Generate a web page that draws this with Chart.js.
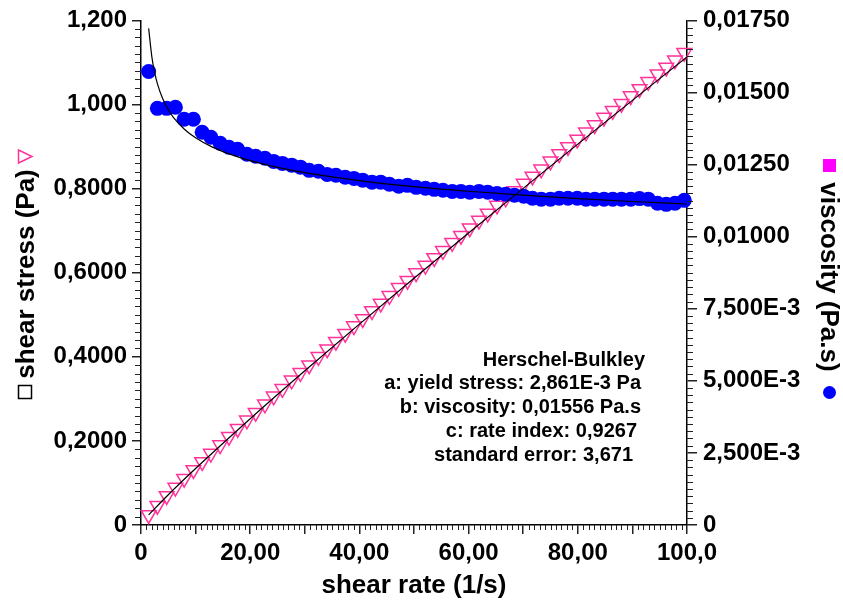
<!DOCTYPE html>
<html>
<head>
<meta charset="utf-8">
<script src="https://cdn.jsdelivr.net/npm/chart.js@4.4.1/dist/chart.umd.min.js"></script>
<style>
  html, body { margin: 0; padding: 0; background: #fff; }
  #wrap { width: 843px; height: 605px; position: relative; }
</style>
</head>
<body>
<div id="wrap"><canvas id="myChart"></canvas></div>
<script>
/* ======================================
        DATA
========================================*/
const shearRate = [1.4, 3.0, 4.7, 6.3, 7.9, 9.6, 11.2, 12.8, 14.5, 16.1, 17.7, 19.4, 21.0, 22.7, 24.3, 25.9, 27.6, 29.2, 30.8, 32.5,
  34.1, 35.7, 37.4, 39.0, 40.6, 42.3, 43.9, 45.5, 47.2, 48.8, 50.4, 52.1, 53.7, 55.3, 57.0, 58.6, 60.2, 61.9, 63.5, 65.2,
  66.8, 68.4, 70.1, 71.7, 73.3, 75.0, 76.6, 78.2, 79.9, 81.5, 83.1, 84.8, 86.4, 88.0, 89.7, 91.3, 92.9, 94.6, 96.2, 97.8, 99.5];
const shearStress = [0.024, 0.046, 0.069, 0.089, 0.110, 0.131, 0.150, 0.170, 0.190, 0.210, 0.229, 0.249, 0.267, 0.287, 0.306, 0.324, 0.344, 0.362, 0.380, 0.400,
  0.418, 0.436, 0.455, 0.473, 0.490, 0.509, 0.527, 0.545, 0.564, 0.581, 0.599, 0.617, 0.635, 0.652, 0.671, 0.688, 0.706, 0.724, 0.741, 0.760,
  0.777, 0.794, 0.812, 0.829, 0.846, 0.865, 0.882, 0.899, 0.917, 0.934, 0.951, 0.969, 0.985, 1.002, 1.020, 1.037, 1.054, 1.072, 1.088, 1.105, 1.123];
const viscosity = [0.01573, 0.01445, 0.01445, 0.01449, 0.01407, 0.01407, 0.01362, 0.01345, 0.01324, 0.01310,
  0.01303, 0.01286, 0.01279, 0.01272, 0.01261, 0.01254, 0.01248, 0.01241, 0.01230, 0.01227,
  0.01216, 0.01213, 0.01206, 0.01202, 0.01196, 0.01189, 0.01189, 0.01182, 0.01175, 0.01178,
  0.01171, 0.01168, 0.01164, 0.01161, 0.01157, 0.01157, 0.01154, 0.01157, 0.01154, 0.01150,
  0.01147, 0.01144, 0.01140, 0.01133, 0.01130, 0.01130, 0.01133, 0.01133, 0.01133, 0.01130,
  0.01130, 0.01130, 0.01130, 0.01130, 0.01130, 0.01132, 0.01130, 0.01116, 0.01112, 0.01116, 0.01126];

// Herschel-Bulkley fit curves
const fitRate = [1.4, 5, 10, 20, 30, 40, 50, 60, 70, 80, 90, 100];
const fitStress = [0.0241, 0.0720, 0.1343, 0.2527, 0.3667, 0.4778, 0.5869, 0.6945, 0.8006, 0.9057, 1.0098, 1.1132];
const fitViscRate = [1.4, 2, 2.5, 3, 4, 5, 6, 8, 10, 13, 16, 20, 25, 30, 40, 50, 60, 70, 80, 90, 100];
const fitVisc = [0.017223, 0.016220, 0.015693, 0.015309, 0.014772, 0.014400, 0.014122, 0.013718, 0.013430, 0.013113,
  0.012878, 0.012635, 0.012403, 0.012222, 0.011946, 0.011738, 0.011575, 0.011437, 0.011322, 0.011220, 0.011133];

const xTickLabels = ['0', '20,00', '40,00', '60,00', '80,00', '100,0'];
const stressTickLabels = ['0', '0,2000', '0,4000', '0,6000', '0,8000', '1,000', '1,200'];
const viscTickLabels = ['0', '2,500E-3', '5,000E-3', '7,500E-3', '0,01000', '0,01250', '0,01500', '0,01750'];
const fitNotes = ['Herschel-Bulkley', 'a: yield stress: 2,861E-3 Pa', 'b: viscosity: 0,01556 Pa.s', 'c: rate index: 0,9267', 'standard error: 3,671'];

const FONT = "'Liberation Sans', Arial, sans-serif";
const PINK = '#FF3399';
const BLUE = '#0000FF';

/* ======================================
        EXTRA DRAWING (minor ticks, titles, notes)
========================================*/
const extras = {
  id: 'extras',
  afterDraw(chart) {
    const ctx = chart.ctx;
    const xs = chart.scales.x, ys = chart.scales.y, y1 = chart.scales.y1;
    ctx.save();
    ctx.strokeStyle = '#222';
    ctx.lineWidth = 1;
    const seg = (a, b, c, d) => { ctx.beginPath(); ctx.moveTo(a, b); ctx.lineTo(c, d); ctx.stroke(); };
    // minor ticks
    for (let v = 1; v < 100; v++) {
      if (v % 10 === 0) continue;
      const p = Math.round(xs.getPixelForValue(v)) + 0.5;
      seg(p, xs.top, p, xs.top + 5);
    }
    for (let i = 1; i < 60; i++) {
      if (i % 10 === 0) continue;
      const p = Math.round(ys.getPixelForValue(i * 0.02)) + 0.5;
      seg(ys.right - 6, p, ys.right, p);
    }
    for (let i = 1; i < 70; i++) {
      if (i % 10 === 0) continue;
      const p = Math.round(y1.getPixelForValue(i * 0.00025)) + 0.5;
      seg(y1.left, p, y1.left + 6, p);
    }

    // left title with markers
    ctx.fillStyle = '#000';
    ctx.font = 'bold 26px ' + FONT;
    ctx.textAlign = 'center';
    ctx.textBaseline = 'middle';
    ctx.save();
    ctx.translate(27, 274);
    ctx.rotate(-Math.PI / 2);
    ctx.fillText('shear stress (Pa)', 0, 0);
    ctx.restore();
    ctx.lineWidth = 1.5;
    ctx.strokeStyle = '#000';
    ctx.strokeRect(18.5, 385.5, 13, 13);
    ctx.strokeStyle = PINK;
    ctx.beginPath();
    ctx.moveTo(18.5, 150); ctx.lineTo(32, 156.5); ctx.lineTo(18.5, 163); ctx.closePath();
    ctx.stroke();

    // right title with markers
    ctx.save();
    ctx.translate(828, 277);
    ctx.rotate(Math.PI / 2);
    ctx.fillText('viscosity (Pa.s)', 0, 0);
    ctx.restore();
    ctx.fillStyle = '#FF00FF';
    ctx.fillRect(823, 159, 13, 13);
    ctx.fillStyle = BLUE;
    ctx.beginPath();
    ctx.arc(829.5, 392.5, 6.5, 0, Math.PI * 2);
    ctx.fill();

    // fit notes
    ctx.fillStyle = '#000';
    ctx.font = 'bold 20px ' + FONT;
    ctx.textAlign = 'right';
    const ends = [645, 641, 641, 637, 633];
    fitNotes.forEach((t, i) => {
      ctx.fillText(t, ends[i], 360 + i * 23.8);
    });
    ctx.restore();
  }
};

/* ======================================
        CHART
========================================*/
const toPts = (xs, ys) => xs.map((x, i) => ({ x: x, y: ys[i] }));
const tickFont = { family: FONT, size: 24, weight: 'bold' };

let rheoChart = new Chart(document.getElementById('myChart').getContext('2d'), {
  type: 'scatter',
  data: {
    datasets: [
      {
        label: 'fit stress',
        data: toPts(fitRate, fitStress),
        yAxisID: 'y',
        showLine: true,
        borderColor: '#000',
        borderWidth: 1.2,
        pointRadius: 0,
        cubicInterpolationMode: 'monotone',
        order: 0
      },
      {
        label: 'fit viscosity',
        data: toPts(fitViscRate, fitVisc),
        yAxisID: 'y1',
        showLine: true,
        borderColor: '#000',
        borderWidth: 1.2,
        pointRadius: 0,
        cubicInterpolationMode: 'monotone',
        order: 0
      },
      {
        label: 'shear stress',
        data: toPts(shearRate, shearStress),
        yAxisID: 'y',
        pointStyle: 'triangle',
        rotation: 180,
        pointRadius: 8.5,
        borderWidth: 1.5,
        borderColor: PINK,
        backgroundColor: 'rgba(0,0,0,0)',
        clip: false,
        order: 2
      },
      {
        label: 'viscosity',
        data: toPts(shearRate, viscosity),
        yAxisID: 'y1',
        pointStyle: 'circle',
        pointRadius: 7.5,
        borderWidth: 0,
        backgroundColor: BLUE,
        clip: false,
        order: 1
      }
    ]
  },
  options: {
    responsive: true,
    maintainAspectRatio: false,
    animation: false,
    layout: { padding: { top: 20, left: 0, right: 0, bottom: 0 } },
    plugins: { legend: { display: false }, tooltip: { enabled: false } },
    scales: {
      x: {
        type: 'linear',
        min: 0, max: 100,
        afterFit: (s) => { s.height = 80; },
        border: { display: true, color: '#000', width: 1.5 },
        grid: { drawOnChartArea: false, drawTicks: true, tickLength: 9, color: '#222', lineWidth: 1.5 },
        ticks: {
          stepSize: 10, autoSkip: false, maxRotation: 0, padding: 5,
          color: '#000', font: tickFont,
          callback: (v) => (Math.round(v) % 20 === 0 ? xTickLabels[Math.round(v / 20)] : '')
        },
        title: {
          display: true, text: 'shear rate (1/s)', color: '#000',
          font: { family: FONT, size: 26, weight: 'bold' },
          padding: { top: 0, bottom: 4 }
        }
      },
      y: {
        type: 'linear', position: 'left',
        min: 0, max: 1.2,
        afterFit: (s) => { s.width = 141; },
        border: { display: true, color: '#000', width: 1.5 },
        grid: { drawOnChartArea: false, drawTicks: true, tickLength: 9, color: '#222', lineWidth: 1.5 },
        ticks: {
          stepSize: 0.2, autoSkip: false, padding: 5,
          color: '#000', font: tickFont,
          callback: (v) => stressTickLabels[Math.round(v / 0.2)]
        }
      },
      y1: {
        type: 'linear', position: 'right',
        min: 0, max: 0.0175,
        afterFit: (s) => { s.width = 156; },
        border: { display: true, color: '#000', width: 1.5 },
        grid: { drawOnChartArea: false, drawTicks: true, tickLength: 10, color: '#222', lineWidth: 1.5 },
        ticks: {
          stepSize: 0.0025, autoSkip: false, padding: 6,
          color: '#000', font: tickFont,
          callback: (v) => viscTickLabels[Math.round(v / 0.0025)]
        }
      }
    }
  },
  plugins: [extras]
});
</script>
</body>
</html>
